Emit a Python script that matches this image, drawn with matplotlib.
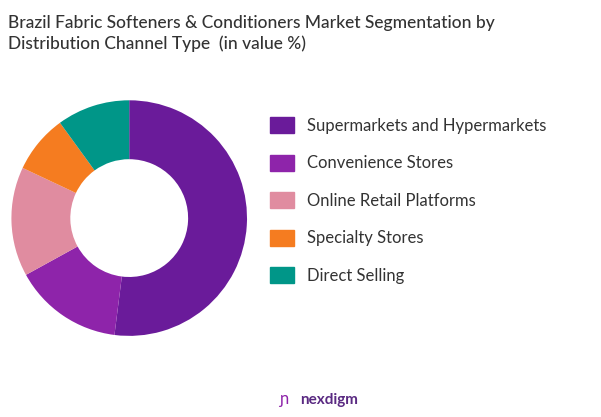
import matplotlib
matplotlib.use("Agg")
import matplotlib.pyplot as plt
from matplotlib.patches import Patch

labels = ["Supermarkets and Hypermarkets", "Convenience Stores",
          "Online Retail Platforms", "Specialty Stores", "Direct Selling"]
values = [52, 15, 15, 8, 10]
colors = ["#6a1b9a", "#8e24aa", "#e08ca0", "#f57c20", "#009688"]

plt.rcParams['font.family'] = ['Lato', 'DejaVu Sans']

fig = plt.figure(figsize=(6.01, 4.17), dpi=100)
ax = fig.add_axes([-0.03, 0.122, 0.49, 0.71])
ax.pie(values, colors=colors, startangle=90, counterclock=False,
       wedgeprops=dict(width=0.5, edgecolor="none"))
ax.set_aspect("equal")

fig.text(0.013, 0.965, "Brazil Fabric Softeners & Conditioners Market Segmentation by\nDistribution Channel Type  (in value %)",
         fontsize=12.5, color="#333333", va="top", linespacing=1.35, fontweight="medium")

handles = [Patch(color=c) for c in colors]
fig.legend(handles, labels, loc="upper left", bbox_to_anchor=(0.425, 0.755),
           frameon=False, fontsize=12, labelspacing=1.25, handlelength=1.4,
           handleheight=1.1, labelcolor="#333333")

fig.text(0.5, 0.03, "nexdigm", fontsize=11, color="#5a2a82", fontweight="bold", ha="left")
fig.text(0.465, 0.03, "ɲ", fontsize=12, color="#8e24aa", ha="left")

fig.savefig("out.png", dpi=100)
